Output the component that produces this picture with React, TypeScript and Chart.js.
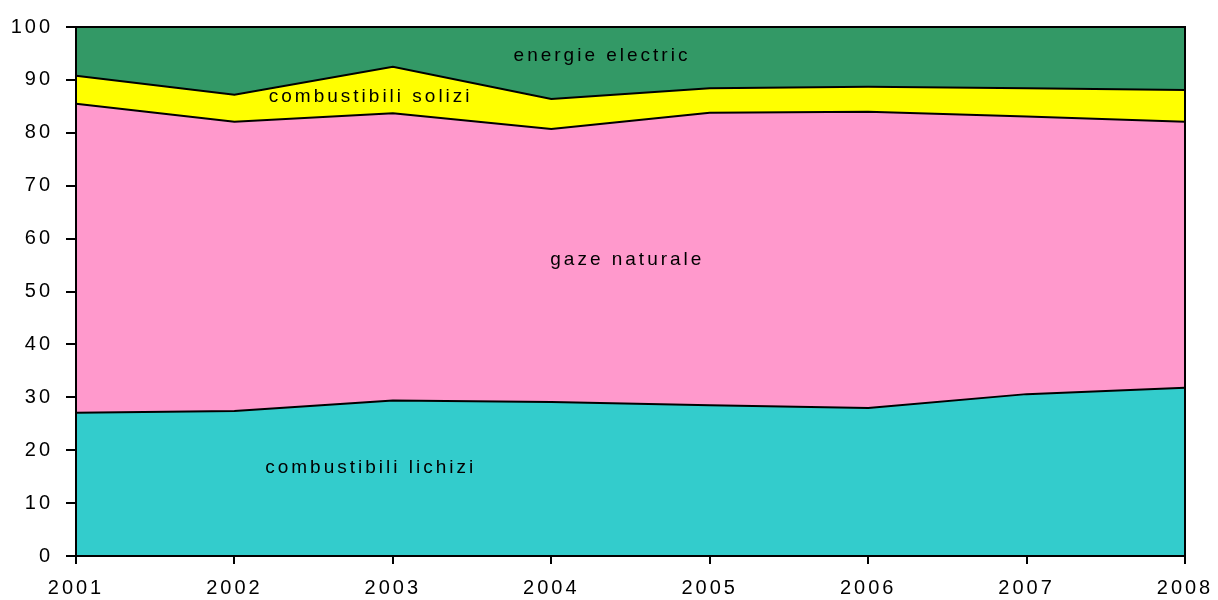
import React, { useEffect, useRef } from "react";
import { Chart, registerables } from "chart.js";

Chart.register(...registerables);

const years = ["2001", "2002", "2003", "2004", "2005", "2006", "2007", "2008"];
const lichizi = [27.1, 27.4, 29.4, 29.1, 28.5, 28.0, 30.6, 31.8];
const gaze = [58.4, 54.7, 54.3, 51.6, 55.3, 56.0, 52.5, 50.3];
const solizi = [5.3, 5.1, 8.8, 5.7, 4.6, 4.7, 5.3, 6.0];
const electric = [9.2, 12.8, 7.5, 13.6, 11.6, 11.3, 11.6, 11.9];

const seriesNames = ["combustibili lichizi", "gaze naturale", "combustibili solizi", "energie electric"];
const seriesColors = ["#33CCCC", "#FF99CC", "#FFFF00", "#339966"];
// label anchors: [category index (fractional), value]
const labelAnchors: [number, number][] = [
  [1.86, 16.6],
  [3.48, 56.0],
  [1.86, 86.9],
  [3.32, 94.6],
];

const FONT = "'Liberation Sans', Arial, sans-serif";
const SPACING = "3px";

export default function App() {
  const ref = useRef<HTMLCanvasElement | null>(null);
  useEffect(() => {
    if (!ref.current) return;
    const setSpacing = (chart: any) => {
      (chart.ctx as any).letterSpacing = SPACING;
    };
    const spacingPlugin = {
      id: "spacing",
      beforeInit: setSpacing,
      beforeUpdate: setSpacing,
      beforeLayout: setSpacing,
      beforeDraw: setSpacing,
    };
    const decor = {
      id: "decor",
      afterDatasetsDraw(chart: any) {
        const { ctx, chartArea, scales } = chart;
        ctx.save();
        ctx.strokeStyle = "#000";
        ctx.lineWidth = 2;
        ctx.strokeRect(chartArea.left, chartArea.top, chartArea.right - chartArea.left, chartArea.bottom - chartArea.top);
        ctx.fillStyle = "#000";
        ctx.font = `19px ${FONT}`;
        (ctx as any).letterSpacing = "3px";
        ctx.textAlign = "center";
        ctx.textBaseline = "middle";
        seriesNames.forEach((name, i) => {
          const [xi, v] = labelAnchors[i];
          ctx.fillText(name, scales.x.getPixelForValue(xi), scales.y.getPixelForValue(v));
        });
        ctx.restore();
      },
    };
    const data = [lichizi, gaze, solizi, electric];
    const chart = new Chart(ref.current, {
      type: "line",
      data: {
        labels: years,
        datasets: data.map((d, i) => ({
          label: seriesNames[i],
          data: d,
          backgroundColor: seriesColors[i],
          borderColor: "#000",
          borderWidth: 2,
          pointRadius: 0,
          tension: 0,
          fill: i === 0 ? "origin" : "-1",
        })),
      },
      options: {
        animation: false,
        responsive: false,
        layout: { padding: { top: 27, right: 33, left: 0, bottom: 0 } },
        plugins: { legend: { display: false }, tooltip: { enabled: false } },
        scales: {
          x: {
            offset: false,
            grid: { display: true, drawOnChartArea: false, drawTicks: true, tickLength: 8, color: "#000", lineWidth: 2 },
            border: { color: "#000", width: 2 },
            ticks: { color: "#000", font: { family: FONT, size: 20 }, padding: 12, maxRotation: 0, autoSkip: false },
            afterFit(scale: any) {
              scale.height = 44;
              scale.paddingRight = 0;
              scale.paddingLeft = 0;
            },
          },
          y: {
            stacked: true,
            min: 0,
            max: 100,
            grid: { display: true, drawOnChartArea: false, drawTicks: true, tickLength: 10, color: "#000", lineWidth: 2 },
            border: { color: "#000", width: 2 },
            ticks: { stepSize: 10, color: "#000", font: { family: FONT, size: 20 }, padding: 13 },
            afterFit(scale: any) {
              scale.width = 76;
              scale.paddingTop = 0;
              scale.paddingBottom = 0;
            },
          },
        },
      },
      plugins: [spacingPlugin, decor],
    });
    return () => chart.destroy();
  }, []);
  return (
    <div style={{ position: "absolute", left: 0, top: 0, width: 1218, height: 600, background: "#fff" }}>
      <canvas ref={ref} width={1218} height={600} style={{ width: 1218, height: 600, display: "block" }} />
    </div>
  );
}
